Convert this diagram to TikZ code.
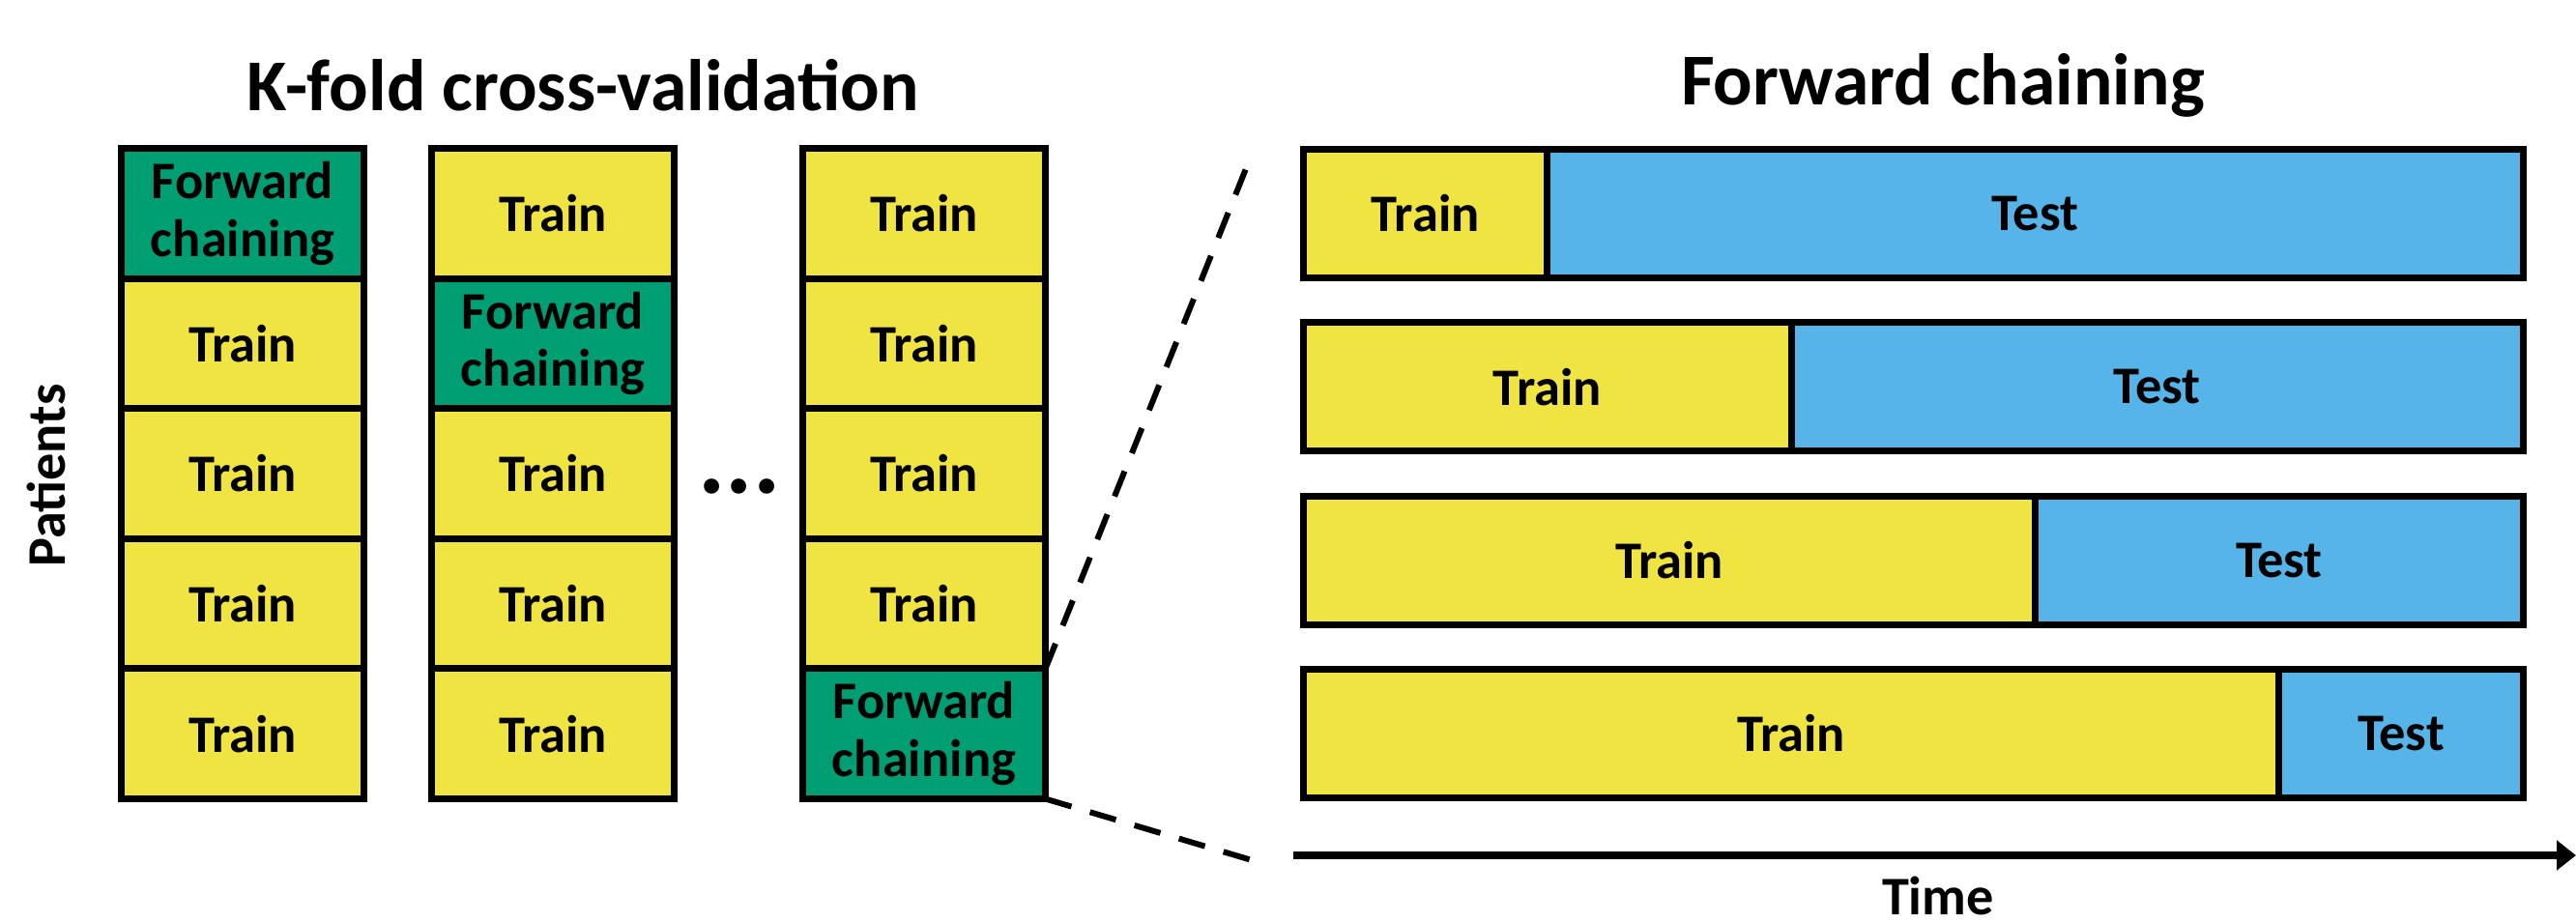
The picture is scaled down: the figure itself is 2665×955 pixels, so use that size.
\documentclass[tikz,border=0pt]{standalone}
\usepackage{fontspec}
\setmainfont{Carlito}
\usepackage{xcolor}
\usetikzlibrary{arrows.meta, positioning}
\definecolor{trainyellow}{HTML}{F0E442}
\definecolor{testblue}{HTML}{56B4E9}
\definecolor{chaingreen}{HTML}{009E73}

\begin{document}
\begin{tikzpicture}[
    x=0.01cm, y=-0.01cm,
    cell/.style={rectangle, draw, line width=2pt, outer sep=0pt, inner sep=0pt, minimum width=2.51cm, minimum height=1.346cm, align=center, font=\fontsize{15.5}{17}\selectfont\bfseries},
    train/.style={cell, fill=trainyellow},
    chain/.style={cell, fill=chaingreen},
    test/.style={cell, fill=testblue},
    bar/.style={minimum height=1.33cm},
    label/.style={font=\fontsize{16}{18}\selectfont\bfseries},
    title/.style={font=\fontsize{21.5}{24}\selectfont\bfseries},
    zoomline/.style={line width=1.7pt, dash pattern=on 0.28cm off 0.2cm},
    timeline/.style={line width=2.5pt, -{Triangle[length=0.2cm, width=0.3cm]}}
]
\useasboundingbox (0,0) rectangle (2665,955);

% Titles
\node[title] (kfold) at (603,88) {K-fold cross-validation};
\node[title] (fwd) at (2010,88) {Forward chaining};

% Folds: one column per fold, green cell is the held-out part
\foreach \c/\x/\g in {1/251/1, 2/572/2, 3/956/5}
{
    \foreach \r in {1,...,5}
    {
        \pgfmathsetmacro\y{86.2+134.6*\r}
        \ifnum\r=\g
            \node[chain] (col\c-\r) at (\x,\y) {Forward\\chaining};
        \else
            \node[train] (col\c-\r) at (\x,\y) {Train};
        \fi
    }
}
\node[font=\fontsize{30}{30}\selectfont\bfseries, anchor=base] (dots) at (765,511) {...};
\node[label, rotate=90] (patients) at (48,492) {Patients};

% Forward chaining bars
\foreach \b/\f in {1/0.2, 2/0.4, 3/0.6, 4/0.8}
{
    \pgfmathsetmacro\y{221+179.3*(\b-1)}
    \pgfmathsetmacro\tw{12.61*\f}
    \pgfmathsetmacro\sw{12.61-\tw}
    \node[train, bar, minimum width=\tw cm, anchor=west] (train\b) at (1348.5,\y) {Train};
    \node[test, bar, minimum width=\sw cm, right=0pt of train\b] (test\b) {Test};
}

% Zoom lines
\coordinate (zoomtop) at (1290,172);
\coordinate (zoombot) at (1295,890);
\draw[zoomline] (col3-5.north east) -- (zoomtop);
\draw[zoomline] (col3-5.south east) -- (zoombot);

% Time axis
\coordinate (tstart) at (1338,885);
\coordinate (tend) at (2665,885);
\draw[timeline] (tstart) -- (tend);
\node[label, anchor=base, inner sep=0pt] (time) at (2005,946) {Time};

\end{tikzpicture}
\end{document}
